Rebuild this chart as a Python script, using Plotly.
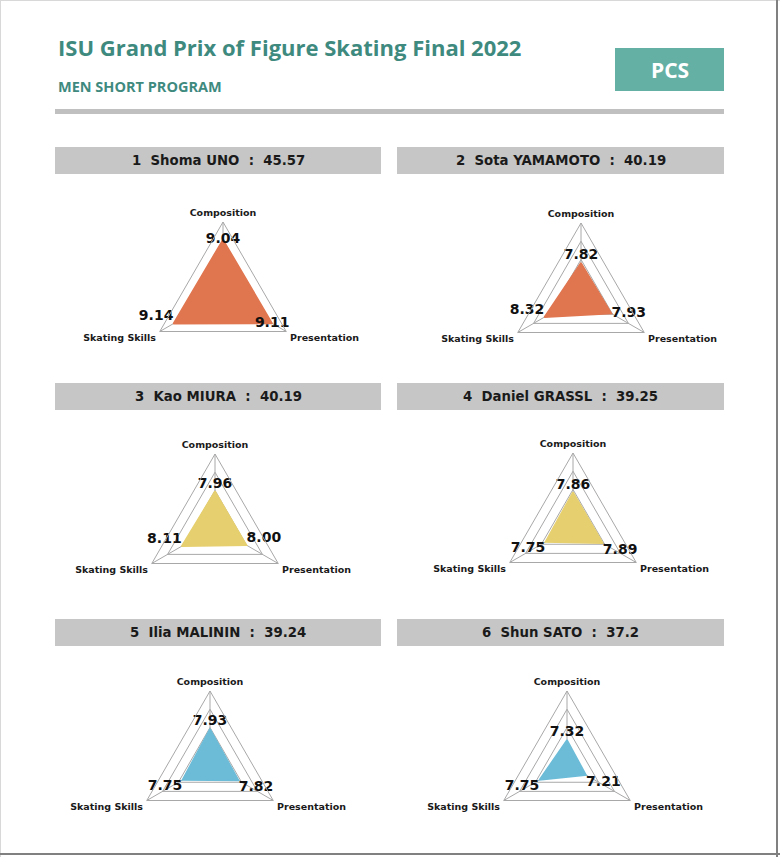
import plotly.graph_objects as go

# ---------------- data ----------------
categories = ["Composition", "Presentation", "Skating Skills"]
ranks = [1, 2, 3, 4, 5, 6]
names = ["Shoma UNO", "Sota YAMAMOTO", "Kao MIURA", "Daniel GRASSL", "Ilia MALININ", "Shun SATO"]
totals = ["45.57", "40.19", "40.19", "39.25", "39.24", "37.2"]
composition = [9.04, 7.82, 7.96, 7.86, 7.93, 7.32]
presentation = [9.11, 7.93, 8.00, 7.89, 7.82, 7.21]
skating_skills = [9.14, 8.32, 8.11, 7.75, 7.75, 7.75]

title = "ISU Grand Prix of Figure Skating Final 2022"
subtitle = "MEN SHORT PROGRAM"
badge = "PCS"

# ---------------- layout / style ----------------
W, H = 780, 857
TEAL = "#3F8A7F"
BADGE = "#65B0A5"
HEAD_FILL = "#C6C6C6"
GRID = "#A8A8A8"
fills = ["#E07650", "#E07650", "#E6CF6E", "#E6CF6E", "#6CBCD8", "#6CBCD8"]
centers = [(223, 295), (581, 296), (215, 527), (573, 526), (210, 764), (567, 764)]
R = 73
head_x = [(55, 381), (397, 724)]
head_y = [(147, 174), (383, 410), (619, 646)]
label_pos = [
    ["middle center", "middle center", "top left"],
    ["top center", "middle right", "top left"],
    ["top center", "top right", "top left"],
    ["top center", "bottom right", "bottom left"],
    ["top center", "bottom right", "bottom left"],
    ["top center", "bottom right", "bottom left"],
]


def px(x):
    return x / W


def py(y):
    return 1 - y / H


fig = go.Figure()
shapes = []
annotations = []

for i in range(6):
    vals = [composition[i], presentation[i], skating_skills[i]]
    pid = "polar" if i == 0 else f"polar{i+1}"
    sub = "polar" if i == 0 else f"polar{i+1}"
    fig.add_trace(go.Scatterpolar(
        r=vals + [vals[0]], theta=categories + [categories[0]],
        mode="lines", fill="toself", fillcolor=fills[i],
        line=dict(color=fills[i], width=1.5),
        subplot=sub, hoverinfo="skip", showlegend=False,
    ))
    fig.add_trace(go.Scatterpolar(
        r=vals, theta=categories, mode="text",
        text=[f"{v:.2f}" for v in vals], textposition=label_pos[i],
        textfont=dict(family="DejaVu Sans", size=14, color="#111111", weight="bold"),
        subplot=sub, hoverinfo="skip", showlegend=False,
    ))
    cx, cy = centers[i]
    fig.update_layout({pid: dict(
        domain=dict(x=[px(cx - R), px(cx + R)], y=[py(cy + R), py(cy - R)]),
        bgcolor="rgba(0,0,0,0)",
        gridshape="linear",
        radialaxis=dict(range=[6, 10], tick0=6, dtick=1, showticklabels=False,
                        ticks="", showline=False, gridcolor=GRID, gridwidth=1),
        angularaxis=dict(rotation=90, direction="clockwise", showline=True,
                         linecolor=GRID, linewidth=1, gridcolor=GRID,
                         ticks="outside", ticklen=2, tickcolor="rgba(0,0,0,0)",
                         tickfont=dict(family="DejaVu Sans", size=9.5, color="#1a1a1a",
                                       weight="bold")),
    )})

    # header bar
    col, row = i % 2, i // 2
    x0, x1 = head_x[col]
    y0, y1 = head_y[row]
    shapes.append(dict(type="rect", xref="paper", yref="paper",
                       x0=px(x0), x1=px(x1), y0=py(y1), y1=py(y0),
                       fillcolor=HEAD_FILL, line=dict(width=0), layer="below"))
    annotations.append(dict(xref="paper", yref="paper", x=px((x0 + x1) / 2),
                            y=py((y0 + y1) / 2), xanchor="center", yanchor="middle",
                            showarrow=False,
                            text=f"{ranks[i]}  {names[i]}  :  {totals[i]}",
                            font=dict(family="DejaVu Sans", size=13.3, color="#1a1a1a",
                                      weight="bold")))

# title block
annotations.append(dict(xref="paper", yref="paper", x=px(56), y=py(47), xanchor="left",
                        yanchor="middle", showarrow=False, text=title,
                        font=dict(family="Open Sans", size=22, color=TEAL, weight="bold")))
annotations.append(dict(xref="paper", yref="paper", x=px(56), y=py(86), xanchor="left",
                        yanchor="middle", showarrow=False, text=subtitle,
                        font=dict(family="Open Sans", size=14.5, color=TEAL, weight="bold")))
shapes.append(dict(type="rect", xref="paper", yref="paper", x0=px(615), x1=px(724),
                   y0=py(91), y1=py(48), fillcolor=BADGE, line=dict(width=0), layer="below"))
annotations.append(dict(xref="paper", yref="paper", x=px(669.5), y=py(70), xanchor="center",
                        yanchor="middle", showarrow=False, text=badge,
                        font=dict(family="Open Sans", size=21, color="white", weight="bold")))
shapes.append(dict(type="rect", xref="paper", yref="paper", x0=px(55), x1=px(724),
                   y0=py(114), y1=py(109), fillcolor="#C0C0C0", line=dict(width=0),
                   layer="below"))

# page frame
shapes.append(dict(type="line", xref="paper", yref="paper", x0=px(0.5), x1=px(0.5),
                   y0=0, y1=1, line=dict(color="#D8D8D8", width=1)))
shapes.append(dict(type="line", xref="paper", yref="paper", x0=0, x1=1,
                   y0=py(0.5), y1=py(0.5), line=dict(color="#D8D8D8", width=1)))
shapes.append(dict(type="line", xref="paper", yref="paper", x0=px(777), x1=px(777),
                   y0=0, y1=1, line=dict(color="#808080", width=2)))
shapes.append(dict(type="line", xref="paper", yref="paper", x0=0, x1=1,
                   y0=py(854), y1=py(854), line=dict(color="#808080", width=2)))

fig.update_layout(width=W, height=H, margin=dict(l=0, r=0, t=0, b=0),
                  paper_bgcolor="white", plot_bgcolor="white", showlegend=False,
                  shapes=shapes, annotations=annotations)

fig.write_html("out.html", config={"displayModeBar": False},
               post_script="document.body.style.margin='0';document.body.style.overflow='hidden';")
